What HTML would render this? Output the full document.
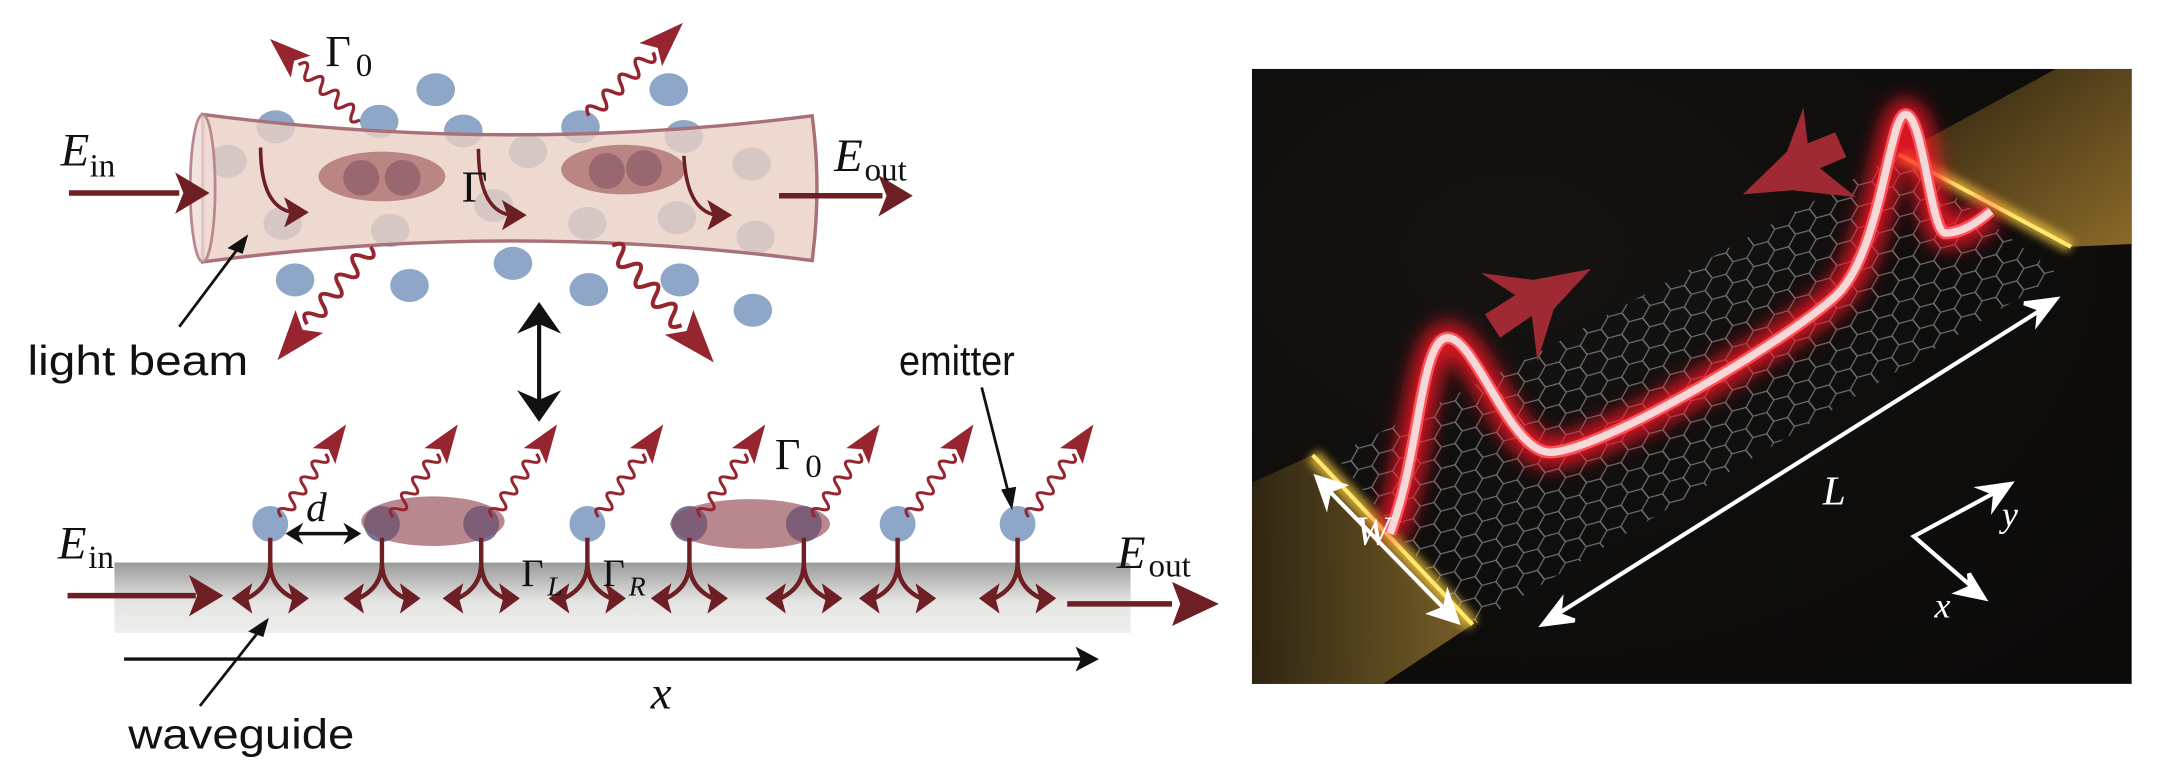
<!DOCTYPE html>
<html><head><meta charset="utf-8"><style>
html,body{margin:0;padding:0;background:#fff;}
svg{display:block}
.m{font-family:"Liberation Serif",serif;fill:#111}
.s{font-family:"Liberation Sans",sans-serif;fill:#111}
</style></head><body>
<svg width="2162" height="768" viewBox="0 0 1568 557" preserveAspectRatio="none" xmlns="http://www.w3.org/2000/svg">
<defs>
<g id="wv"><path d="M0 0 q3.5 -9 7 0 t7 0 t7 0 t7 0 t7 0 t7 0 t7 0 t7 0" fill="none" stroke="#962530" stroke-width="2.2"/><polygon points="54,-10 82,0 54,10 60,0" fill="#962530"/></g>
<g id="sp"><path d="M0 10 L0 28 Q0 46 -17 54 M0 28 Q0 46 17 54" fill="none" stroke="#6e1f24" stroke-width="3.2"/><polygon points="-28,54 -13,43 -16,54 -13,65" fill="#6e1f24"/><polygon points="28,54 13,43 16,54 13,65" fill="#6e1f24"/></g>
<linearGradient id="wg" x1="0" y1="0" x2="0" y2="1"><stop offset="0" stop-color="#9a9a9a"/><stop offset="0.55" stop-color="#e4e4e2"/><stop offset="1" stop-color="#eeeeec"/></linearGradient>
<pattern id="hex" width="16" height="27" patternUnits="userSpaceOnUse" patternTransform="rotate(-38) scale(1.2 0.9)">
<path d="M0 4.5 L8 0 L16 4.5 L16 13.5 L8 18 L0 13.5 Z M8 18 L8 27" fill="none" stroke="#9a9a9a" stroke-width="0.9"/></pattern>
<filter id="gl" x="-20%" y="-20%" width="140%" height="140%"><feGaussianBlur stdDeviation="7"/></filter>
<filter id="gl2"><feGaussianBlur stdDeviation="3"/></filter>
<radialGradient id="bgc" cx="0.3" cy="0.3" r="0.9"><stop offset="0" stop-color="#161412"/><stop offset="1" stop-color="#0b0a09"/></radialGradient>
<linearGradient id="gold" x1="0" y1="0" x2="1" y2="1"><stop offset="0" stop-color="#2a2010"/><stop offset="1" stop-color="#8a6a28"/></linearGradient>
<linearGradient id="gold2" x1="0" y1="0" x2="1" y2="0"><stop offset="0" stop-color="#3a2e14"/><stop offset="1" stop-color="#9a7a30"/></linearGradient>
</defs>

<g fill="#8ea6c8">
<ellipse cx="316" cy="65" rx="14" ry="12"/><ellipse cx="485" cy="65" rx="14" ry="12"/>
<ellipse cx="275" cy="88" rx="14" ry="12"/><ellipse cx="200" cy="92" rx="14" ry="12"/>
<ellipse cx="336" cy="95" rx="14" ry="12"/><ellipse cx="421" cy="92" rx="14" ry="12"/>
<ellipse cx="496" cy="99" rx="14" ry="12"/><ellipse cx="165" cy="117" rx="14" ry="12"/>
<ellipse cx="383" cy="110" rx="14" ry="12"/><ellipse cx="545" cy="119" rx="14" ry="12"/>
<ellipse cx="205" cy="162" rx="14" ry="12"/><ellipse cx="283" cy="167" rx="14" ry="12"/>
<ellipse cx="358" cy="149" rx="14" ry="12"/><ellipse cx="426" cy="162" rx="14" ry="12"/>
<ellipse cx="491" cy="158" rx="14" ry="12"/><ellipse cx="548" cy="172" rx="14" ry="12"/>
<ellipse cx="372" cy="191" rx="14" ry="12"/><ellipse cx="214" cy="203" rx="14" ry="12"/>
<ellipse cx="297" cy="207" rx="14" ry="12"/><ellipse cx="427" cy="210" rx="14" ry="12"/>
<ellipse cx="493" cy="203" rx="14" ry="12"/><ellipse cx="546" cy="225" rx="14" ry="12"/>
</g>
<path d="M147 83 Q370 112 589 84 Q596 136 589 189 Q370 160 147 190 Z" fill="#e8d0c4" fill-opacity="0.8" stroke="#a87078" stroke-width="2.5"/>
<ellipse cx="147" cy="136.5" rx="9" ry="53.5" fill="#f0dcd6" fill-opacity="0.8" stroke="#b88890" stroke-width="2"/>
<ellipse cx="277" cy="128" rx="46" ry="18" fill="#a86868" fill-opacity="0.75"/>
<ellipse cx="452" cy="123" rx="45" ry="18" fill="#a86868" fill-opacity="0.75"/>
<g fill="#8a5a68" fill-opacity="0.7"><ellipse cx="262" cy="129" rx="13" ry="13"/><ellipse cx="292" cy="129" rx="13" ry="13"/><ellipse cx="440" cy="124" rx="13" ry="13"/><ellipse cx="467" cy="122" rx="13" ry="13"/></g>
<g fill="none" stroke="#6e1f24" stroke-width="2.6">
<path d="M189 107 Q189 150 212 154"/><path d="M347 108 Q347 152 370 156"/><path d="M496 113 Q498 152 519 156"/></g>
<g fill="#6e1f24"><polygon points="224,154 206,143 210,154 206,165"/><polygon points="382,156 364,145 368,156 364,167"/><polygon points="531,156 513,145 517,156 513,167"/></g>
<g transform="translate(261,87) rotate(-138) scale(1.07)"><use href="#wv"/></g>
<g transform="translate(427,84) rotate(-44.6) scale(1.17)"><use href="#wv"/></g>
<g transform="translate(269,179) rotate(129.5) scale(1.3)"><use href="#wv"/></g>
<g transform="translate(444,178) rotate(49) scale(1.37)"><use href="#wv"/></g>
<line x1="50" y1="140" x2="130" y2="140" stroke="#6e1f24" stroke-width="4"/><polygon points="152,140 127,125 133,140 127,155" fill="#6e1f24"/>
<line x1="565" y1="142" x2="640" y2="142" stroke="#6e1f24" stroke-width="4"/><polygon points="662,142 637,127 643,142 637,157" fill="#6e1f24"/>
<text class="m" x="44" y="120" font-size="34" font-style="italic">E</text><text class="m" x="65" y="128" font-size="24">in</text>
<text class="m" x="605" y="124" font-size="34" font-style="italic">E</text><text class="m" x="627" y="131" font-size="24">out</text>
<text class="m" x="236" y="48" font-size="32">Γ</text><text class="m" x="258" y="55" font-size="24">0</text>
<text class="m" x="335" y="146" font-size="32">Γ</text>
<line x1="130" y1="237" x2="175" y2="177" stroke="#111" stroke-width="2"/><polygon points="180,170 165,180 176,184" fill="#111"/>
<text class="s" x="20" y="272" font-size="30" textLength="160" lengthAdjust="spacingAndGlyphs">light beam</text>
<line x1="391" y1="232" x2="391" y2="293" stroke="#111" stroke-width="3"/>
<polygon points="391,219 375,242 391,235 407,242" fill="#111"/><polygon points="391,306 375,283 391,290 407,283" fill="#111"/>

<rect x="83" y="408" width="737" height="51" fill="url(#wg)"/>
<polygon points="818,408 826,415 820,425 827,440 819,450 825,459 820,459 820,408" fill="#fff"/>
<line x1="90" y1="478" x2="786" y2="478" stroke="#111" stroke-width="2.5"/><polygon points="797,478 780,469 784,478 780,487" fill="#111"/>
<text class="m" x="472" y="514" font-size="34" font-style="italic">x</text>
<line x1="145" y1="512" x2="190" y2="455" stroke="#111" stroke-width="2"/><polygon points="195,448 180,458 191,462" fill="#111"/>
<text class="s" x="93" y="543" font-size="30" textLength="164" lengthAdjust="spacingAndGlyphs">waveguide</text>
<line x1="49" y1="432" x2="142" y2="432" stroke="#6e1f24" stroke-width="4"/><polygon points="162,432 137,417 143,432 137,447" fill="#6e1f24"/>
<text class="m" x="42" y="405" font-size="34" font-style="italic">E</text><text class="m" x="64" y="412" font-size="24">in</text>
<line x1="774" y1="438" x2="850" y2="438" stroke="#6e1f24" stroke-width="4"/><polygon points="884,438 850,422 856,438 850,454" fill="#6e1f24"/>
<text class="m" x="810" y="412" font-size="34" font-style="italic">E</text><text class="m" x="833" y="418" font-size="24">out</text>
<g fill="#8ea6c8">
<ellipse cx="196" cy="380" rx="13" ry="13"/><ellipse cx="277" cy="380" rx="13" ry="13"/><ellipse cx="349" cy="380" rx="13" ry="13"/><ellipse cx="426" cy="380" rx="13" ry="13"/><ellipse cx="500" cy="380" rx="13" ry="13"/><ellipse cx="583" cy="380" rx="13" ry="13"/><ellipse cx="651" cy="380" rx="13" ry="13"/><ellipse cx="738" cy="380" rx="13" ry="13"/>
</g>
<ellipse cx="314" cy="378" rx="52" ry="18" fill="#a06068" fill-opacity="0.75"/>
<ellipse cx="544" cy="380" rx="58" ry="18" fill="#a06068" fill-opacity="0.75"/>
<g fill="#6a5070" fill-opacity="0.6"><ellipse cx="277" cy="380" rx="13" ry="13"/><ellipse cx="349" cy="380" rx="13" ry="13"/><ellipse cx="500" cy="380" rx="13" ry="13"/><ellipse cx="583" cy="380" rx="13" ry="13"/></g>
<g><use href="#sp" transform="translate(196,380)"/><use href="#sp" transform="translate(277,380)"/><use href="#sp" transform="translate(349,380)"/><use href="#sp" transform="translate(426,380)"/><use href="#sp" transform="translate(500,380)"/><use href="#sp" transform="translate(583,380)"/><use href="#sp" transform="translate(651,380)"/><use href="#sp" transform="translate(738,380)"/></g>
<g transform="translate(204,375) rotate(-55)"><use href="#wv"/></g>
<g transform="translate(285,375) rotate(-55)"><use href="#wv"/></g>
<g transform="translate(357,375) rotate(-55)"><use href="#wv"/></g>
<g transform="translate(434,375) rotate(-55)"><use href="#wv"/></g>
<g transform="translate(508,375) rotate(-55)"><use href="#wv"/></g>
<g transform="translate(591,375) rotate(-55)"><use href="#wv"/></g>
<g transform="translate(659,375) rotate(-55)"><use href="#wv"/></g>
<g transform="translate(746,375) rotate(-55)"><use href="#wv"/></g>
<line x1="214" y1="387" x2="255" y2="387" stroke="#111" stroke-width="2.5"/><polygon points="207,387 220,379 216,387 220,395" fill="#111"/><polygon points="262,387 249,379 253,387 249,395" fill="#111"/>
<text class="m" x="222" y="378" font-size="30" font-style="italic">d</text>
<text class="m" x="378" y="425" font-size="28">Γ</text><text class="m" x="397" y="432" font-size="20" font-style="italic">L</text>
<text class="m" x="437" y="425" font-size="28">Γ</text><text class="m" x="456" y="432" font-size="20" font-style="italic">R</text>
<text class="m" x="562" y="340" font-size="32">Γ</text><text class="m" x="584" y="346" font-size="24">0</text>
<text class="s" x="652" y="272" font-size="30" textLength="84" lengthAdjust="spacingAndGlyphs">emitter</text>
<line x1="712" y1="281" x2="732" y2="360" stroke="#111" stroke-width="2"/><polygon points="734,370 726,355 737,353" fill="#111"/>

<rect x="908" y="50" width="638" height="446" fill="url(#bgc)"/>
<polygon points="1491,50 1546,50 1546,177 1502,179 1377,112" fill="url(#gold)"/>
<polygon points="908,350 952,330 1068,453 1003,496 908,496" fill="url(#gold2)" opacity="0.75"/>
<polygon points="968,330 1110,259 1377,112 1493,199 1068,454" fill="url(#hex)" opacity="0.7"/>
<line x1="1377" y1="112" x2="1502" y2="179" stroke="#ffd040" stroke-width="10" filter="url(#gl2)" opacity="0.7"/>
<line x1="1377" y1="112" x2="1502" y2="179" stroke="#ffe870" stroke-width="3"/>
<line x1="952" y1="330" x2="1068" y2="453" stroke="#ffd040" stroke-width="11" filter="url(#gl2)" opacity="0.7"/>
<line x1="952" y1="330" x2="1068" y2="453" stroke="#ffe870" stroke-width="3"/>
<path d="M1008 387 C1030 330 1030 245 1050 245 C1070 245 1095 328 1124 328 C1160 328 1300 245 1333 213 C1365 180 1370 83 1382 83 C1395 83 1400 169 1411 169 C1425 169 1438 158 1444 153" fill="none" stroke="#ff1828" stroke-width="22" filter="url(#gl)" opacity="0.85"/>
<path d="M1008 387 C1030 330 1030 245 1050 245 C1070 245 1095 328 1124 328 C1160 328 1300 245 1333 213 C1365 180 1370 83 1382 83 C1395 83 1400 169 1411 169 C1425 169 1438 158 1444 153" fill="none" stroke="#ff5058" stroke-width="9"/>
<path d="M1008 387 C1030 330 1030 245 1050 245 C1070 245 1095 328 1124 328 C1160 328 1300 245 1333 213 C1365 180 1370 83 1382 83 C1395 83 1400 169 1411 169 C1425 169 1438 158 1444 153" fill="none" stroke="#f6d8d8" stroke-width="5.5"/>
<polygon points="1154,195 1112,203 1074,198 1099,214 1077,228 1088,245 1111,229 1115,262 1127,224" fill="#a02a34"/>
<polygon points="1264,141 1296,110 1308,78 1311,104 1331,96 1339,114 1320,122 1346,143 1300,138" fill="#a02a34"/>
<g stroke="#fff" stroke-width="3" fill="#fff">
<line x1="962" y1="354" x2="1050" y2="444"/><polygon points="955,346 974,352 964,356 962,366"/><polygon points="1057,451 1038,445 1048,441 1050,431"/>
<line x1="1127" y1="447" x2="1483" y2="223"/><polygon points="1119,453 1132,436 1131,446 1142,450"/><polygon points="1491,217 1478,234 1479,224 1468,220"/>
<polyline points="1451,355 1388,389 1433,428" fill="none"/><polygon points="1458,351 1446,368 1447,358 1437,354"/><polygon points="1439,434 1420,430 1429,426 1428,416"/>
</g>
<text class="m" x="983" y="395" font-size="30" font-style="italic" style="fill:#fff">W</text>
<text class="m" x="1322" y="366" font-size="30" font-style="italic" style="fill:#fff">L</text>
<text class="m" x="1452" y="382" font-size="26" font-style="italic" style="fill:#fff">y</text>
<text class="m" x="1403" y="448" font-size="26" font-style="italic" style="fill:#fff">x</text>
</svg>
</body></html>
